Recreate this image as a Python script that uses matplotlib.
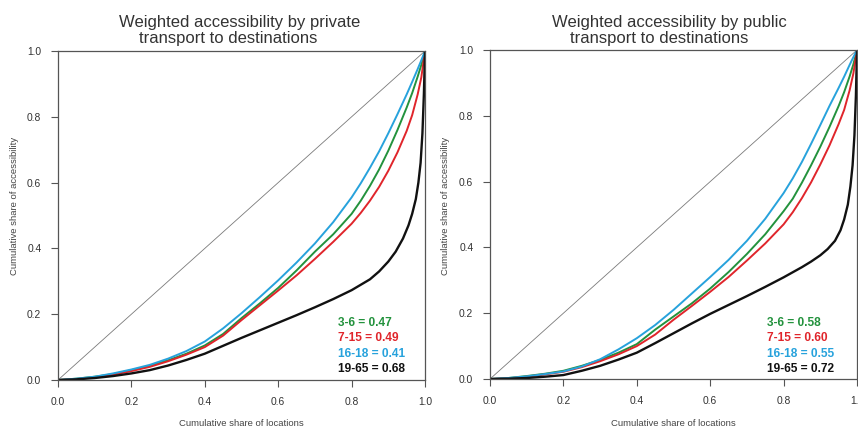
import matplotlib
matplotlib.use("Agg")
import matplotlib.pyplot as plt

plt.rcParams['font.family'] = ['Liberation Sans', 'DejaVu Sans']

# ---- data ----
x_pts = [0, 0.05, 0.1, 0.15, 0.2, 0.25, 0.3, 0.35, 0.4, 0.45, 0.5, 0.55, 0.6,
         0.65, 0.7, 0.75, 0.8, 0.825, 0.85, 0.875, 0.9, 0.925, 0.95, 0.965, 0.98, 0.99, 1.0]

priv_3_6 = [0, 0.004, 0.010, 0.018, 0.030, 0.043, 0.060, 0.080, 0.105, 0.140, 0.188,
            0.233, 0.280, 0.333, 0.390, 0.443, 0.505, 0.545, 0.590, 0.640, 0.697,
            0.760, 0.828, 0.872, 0.922, 0.958, 1.0]
priv_7_15 = [0, 0.003, 0.008, 0.016, 0.027, 0.040, 0.057, 0.077, 0.100, 0.135, 0.182,
             0.227, 0.272, 0.318, 0.368, 0.420, 0.475, 0.508, 0.545, 0.587, 0.636,
             0.692, 0.757, 0.805, 0.868, 0.920, 1.0]
priv_16_18 = [0, 0.004, 0.010, 0.020, 0.032, 0.046, 0.065, 0.088, 0.117, 0.157, 0.203,
              0.252, 0.303, 0.357, 0.415, 0.480, 0.555, 0.598, 0.645, 0.695, 0.750,
              0.808, 0.868, 0.906, 0.945, 0.972, 1.0]

x_black = [0, 0.05, 0.1, 0.15, 0.2, 0.25, 0.3, 0.35, 0.4, 0.45, 0.5, 0.55, 0.6, 0.65,
           0.7, 0.75, 0.8, 0.85, 0.875, 0.9, 0.92, 0.94, 0.955, 0.965, 0.975, 0.982,
           0.988, 0.993, 0.997, 1.0]
priv_19_65 = [0, 0.002, 0.006, 0.012, 0.020, 0.030, 0.044, 0.061, 0.080, 0.104, 0.128,
              0.151, 0.174, 0.197, 0.221, 0.246, 0.273, 0.306, 0.330, 0.360, 0.390,
              0.430, 0.470, 0.505, 0.550, 0.600, 0.660, 0.750, 0.870, 1.0]

pub_3_6 = [0, 0.003, 0.009, 0.016, 0.025, 0.040, 0.058, 0.080, 0.106, 0.150, 0.190,
           0.230, 0.275, 0.325, 0.380, 0.440, 0.510, 0.548, 0.597, 0.650, 0.706,
           0.766, 0.830, 0.872, 0.920, 0.956, 1.0]
pub_7_15 = [0, 0.002, 0.007, 0.014, 0.022, 0.036, 0.054, 0.075, 0.100, 0.135, 0.180,
            0.222, 0.265, 0.310, 0.360, 0.412, 0.470, 0.507, 0.550, 0.598, 0.652,
            0.710, 0.775, 0.818, 0.878, 0.928, 1.0]
pub_16_18 = [0, 0.003, 0.008, 0.015, 0.023, 0.038, 0.060, 0.090, 0.124, 0.164, 0.210,
             0.260, 0.310, 0.362, 0.420, 0.487, 0.565, 0.610, 0.660, 0.715, 0.772,
             0.830, 0.885, 0.919, 0.955, 0.978, 1.0]
pub_19_65 = [0, 0.001, 0.003, 0.007, 0.012, 0.025, 0.040, 0.059, 0.080, 0.109, 0.139,
             0.169, 0.198, 0.225, 0.252, 0.280, 0.309, 0.340, 0.357, 0.376, 0.395,
             0.420, 0.452, 0.485, 0.530, 0.585, 0.650, 0.740, 0.860, 1.0]

groups = ["3-6", "7-15", "16-18", "19-65"]
gini_private = ["0.47", "0.49", "0.41", "0.68"]
gini_public = ["0.58", "0.60", "0.55", "0.72"]
colors = ["#23923d", "#e0252b", "#27a2dc", "#111111"]

ticks = [0.0, 0.2, 0.4, 0.6, 0.8, 1.0]
tick_labels = ["0.0", "0.2", "0.4", "0.6", "0.8", "1.0"]

fig = plt.figure(figsize=(8.58, 4.32), dpi=100)
W, H = 858, 432


def axes_px(x0, y_top, x1, y_bot):
    return fig.add_axes([x0 / W, 1 - y_bot / H, (x1 - x0) / W, (y_bot - y_top) / H])


panels = [
    dict(box=(58, 51, 425, 380), series=[priv_3_6, priv_7_15, priv_16_18, priv_19_65],
         gini=gini_private, title1="Weighted accessibility by private",
         title2="transport to destinations", t1x=240, t2x=228, leg_x=338, ylab_x=15),
    dict(box=(490, 50, 857, 379), series=[pub_3_6, pub_7_15, pub_16_18, pub_19_65],
         gini=gini_public, title1="Weighted accessibility by public",
         title2="transport to destinations", t1x=669, t2x=659, leg_x=767, ylab_x=445),
]

for p in panels:
    x0, yt, x1, yb = p["box"]
    ax = axes_px(x0, yt, x1, yb)
    ax.set_xlim(0, 1)
    ax.set_ylim(0, 1)
    ax.plot([0, 1], [0, 1], color="#7a7a7a", lw=0.6)
    for s, c, nm in zip(p["series"], colors, groups):
        xs = x_black if nm == "19-65" else x_pts
        ax.plot(xs, s, color=c, lw=1.4 if nm != "19-65" else 1.7,
                solid_capstyle="round", solid_joinstyle="round")
    ax.set_xticks(ticks)
    ax.set_yticks(ticks)
    ax.set_xticklabels(tick_labels)
    ax.set_yticklabels(tick_labels)
    ax.tick_params(direction="out", length=5, width=0.8, colors="#555555",
                   labelcolor="#333333", labelsize=7.4, pad=7)
    for sp in ax.spines.values():
        sp.set_color("#555555")
        sp.set_linewidth(0.9)
    # legend text
    for i, (nm, g, c) in enumerate(zip(groups, p["gini"], colors)):
        fig.text(p["leg_x"] / W, 1 - (322.7 + i * 15.6) / H, f"{nm} = {g}",
                 color=c, fontsize=8.6, fontweight="bold", ha="left", va="center")
    # titles
    fig.text(p["t1x"] / W, 1 - 27 / H, p["title1"], fontsize=12, color="#333333",
             ha="center", va="baseline")
    fig.text(p["t2x"] / W, 1 - 42.5 / H, p["title2"], fontsize=12, color="#333333",
             ha="center", va="baseline")
    # axis labels
    fig.text((x0 + x1) / 2 / W, 1 - 423 / H, "Cumulative share of locations",
             fontsize=6.8, color="#444444", ha="center", va="center")
    fig.text(p["ylab_x"] / W, 1 - 206 / H, "Cumulative share of accessibility",
             fontsize=6.8, color="#444444", ha="center", va="center", rotation=90)

fig.savefig("out.png", dpi=100)
